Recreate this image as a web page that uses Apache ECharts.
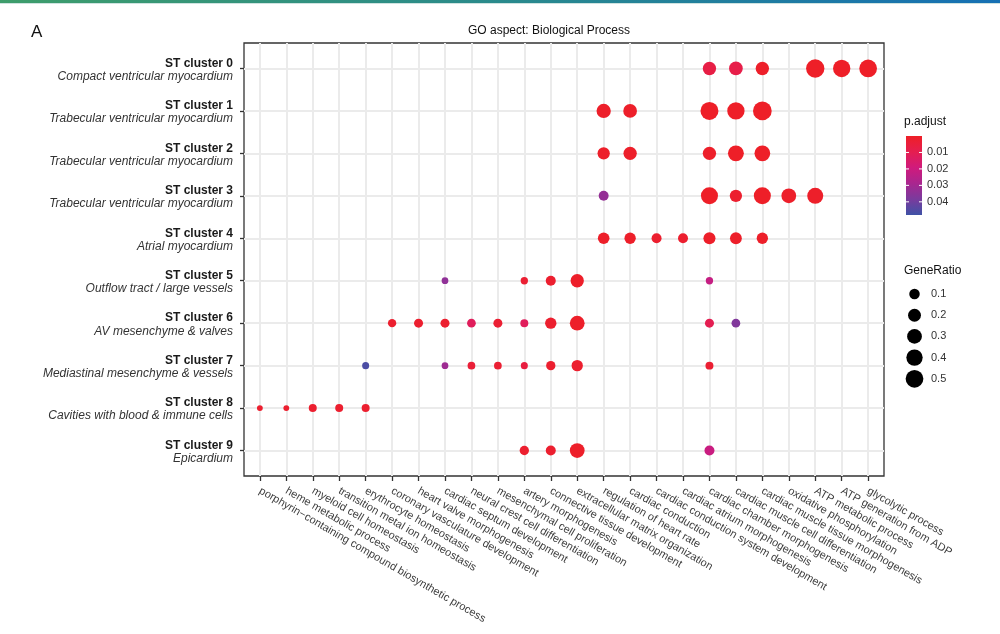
<!DOCTYPE html>
<html>
<head>
<meta charset="utf-8">
<script src="https://cdn.jsdelivr.net/npm/echarts@6/dist/echarts.min.js"></script>
<style>
html,body{margin:0;padding:0;background:#fff;}
#chart{width:1000px;height:634px;}
</style>
</head>
<body>
<div id="chart"></div>
<script>
// ---------- data ----------
const xTerms = [
  'porphyrin\u2212containing compound biosynthetic process',
  'heme metabolic process',
  'myeloid cell homeostasis',
  'transition metal ion homeostasis',
  'erythrocyte homeostasis',
  'coronary vasculature development',
  'heart valve morphogenesis',
  'cardiac septum development',
  'neural crest cell differentiation',
  'mesenchymal cell proliferation',
  'artery morphogenesis',
  'connective tissue development',
  'extracellular matrix organization',
  'regulation of heart rate',
  'cardiac conduction',
  'cardiac conduction system development',
  'cardiac atrium morphogenesis',
  'cardiac chamber morphogenesis',
  'cardiac muscle cell differentiation',
  'cardiac muscle tissue morphogenesis',
  'oxidative phosphorylation',
  'ATP metabolic process',
  'ATP generation from ADP',
  'glycolytic process'
];
const clusterIds = ['ST cluster 0','ST cluster 1','ST cluster 2','ST cluster 3','ST cluster 4',
  'ST cluster 5','ST cluster 6','ST cluster 7','ST cluster 8','ST cluster 9'];
const clusterDescs = [
  'Compact ventricular myocardium',
  'Trabecular ventricular myocardium',
  'Trabecular ventricular myocardium',
  'Trabecular ventricular myocardium',
  'Atrial myocardium',
  'Outflow tract / large vessels',
  'AV mesenchyme & valves',
  'Mediastinal mesenchyme & vessels',
  'Cavities with blood & immune cells',
  'Epicardium'
];
// [term index, GeneRatio, p.adjust]
const cluster0 = [[17,0.22,0.007],[18,0.24,0.008],[19,0.22,0.001],[21,0.55,0.0005],[22,0.47,0.0005],[23,0.50,0.0005]];
const cluster1 = [[13,0.27,0.001],[14,0.24,0.001],[17,0.52,0.0005],[18,0.47,0.0005],[19,0.58,0.0005]];
const cluster2 = [[13,0.17,0.001],[14,0.22,0.001],[17,0.22,0.001],[18,0.37,0.0005],[19,0.36,0.0005]];
const cluster3 = [[13,0.08,0.033],[17,0.45,0.0005],[18,0.17,0.002],[19,0.45,0.0005],[20,0.30,0.001],[21,0.38,0.001]];
const cluster4 = [[13,0.14,0.001],[14,0.13,0.001],[15,0.083,0.002],[16,0.083,0.002],[17,0.16,0.001],[18,0.15,0.001],[19,0.13,0.001]];
const cluster5 = [[7,0.012,0.034],[10,0.02,0.003],[11,0.083,0.002],[12,0.22,0.001],[17,0.02,0.022]];
const cluster6 = [[5,0.039,0.002],[6,0.055,0.002],[7,0.055,0.002],[8,0.047,0.012],[9,0.055,0.003],[10,0.032,0.012],[11,0.13,0.002],[12,0.30,0.001],[17,0.055,0.01],[18,0.047,0.037]];
const cluster7 = [[4,0.016,0.046],[7,0.012,0.031],[8,0.027,0.004],[9,0.027,0.003],[10,0.016,0.006],[11,0.063,0.002],[12,0.13,0.002],[17,0.032,0.003]];
const cluster8 = [[0,0.004,0.002],[1,0.004,0.002],[2,0.032,0.002],[3,0.032,0.002],[4,0.032,0.002]];
const cluster9 = [[10,0.063,0.002],[11,0.083,0.002],[12,0.30,0.001],[17,0.083,0.021]];
const clusters = [cluster0,cluster1,cluster2,cluster3,cluster4,cluster5,cluster6,cluster7,cluster8,cluster9];

const padjTicks = [0.01,0.02,0.03,0.04];
const geneRatioTicks = [0.1,0.2,0.3,0.4,0.5];
const padjMin = 0, padjMax = 0.048;

// ---------- styling / helpers ----------
const FONT = '"Liberation Sans", Arial, Helvetica, sans-serif';
const colorStops = ['#EE1F26','#E51E50','#D01A7C','#A9268F','#7A3B9D','#3F52A6'];
function dotSize(g){ return 4.7 + 18.4*Math.sqrt(g); }

const data = [];
clusters.forEach((arr, ci) => arr.forEach(d => data.push([d[0], ci, d[1], d[2]])));

const xIdx = xTerms.map((_, i) => i);
const yIdx = clusterIds.map((_, i) => i);

// legend geometry
const cbX = 906, cbY = 136, cbW = 16, cbH = 79;
const graphics = [];
graphics.push({type:'rect', shape:{x:0,y:0,width:1000,height:3},
  style:{fill:{type:'linear',x:0,y:0,x2:1,y2:0,colorStops:[
    {offset:0,color:'#3E9D6B'},{offset:0.5,color:'#2A8A8C'},{offset:1,color:'#1670B4'}]}}, silent:true});
graphics.push({type:'rect', shape:{x:0,y:3,width:1000,height:1}, style:{fill:'#CFE3E0'}, silent:true});
graphics.push({type:'text', x:31, y:32, style:{text:'A', font:'17px '+FONT, fill:'#111', textVerticalAlign:'middle'}});
graphics.push({type:'text', x:549, y:31, style:{text:'GO aspect: Biological Process', font:'12px '+FONT, fill:'#111', textAlign:'center', textVerticalAlign:'middle'}});
// p.adjust colour bar
graphics.push({type:'text', x:904, y:122, style:{text:'p.adjust', font:'12px '+FONT, fill:'#111', textVerticalAlign:'middle'}});
graphics.push({type:'rect', shape:{x:cbX,y:cbY,width:cbW,height:cbH},
  style:{fill:{type:'linear',x:0,y:0,x2:0,y2:1,colorStops:colorStops.map((c,i)=>({offset:i/(colorStops.length-1),color:c}))}}});
padjTicks.forEach(v => {
  const y = cbY + (v - padjMin)/(padjMax - padjMin)*cbH;
  graphics.push({type:'line', shape:{x1:cbX,y1:y,x2:cbX+3,y2:y}, style:{stroke:'#fff', lineWidth:1}});
  graphics.push({type:'line', shape:{x1:cbX+cbW-3,y1:y,x2:cbX+cbW,y2:y}, style:{stroke:'#fff', lineWidth:1}});
  graphics.push({type:'text', x:927, y:y, style:{text:v.toFixed(2), font:'11px '+FONT, fill:'#333', textVerticalAlign:'middle'}});
});
// GeneRatio size legend
graphics.push({type:'text', x:904, y:271, style:{text:'GeneRatio', font:'12px '+FONT, fill:'#111', textVerticalAlign:'middle'}});
geneRatioTicks.forEach((g, i) => {
  const y = 294 + i*21.2;
  graphics.push({type:'circle', shape:{cx:914.5, cy:y, r:dotSize(g)/2}, style:{fill:'#000'}});
  graphics.push({type:'text', x:931, y:y, style:{text:String(g), font:'11px '+FONT, fill:'#333', textVerticalAlign:'middle'}});
});

const chart = echarts.init(document.getElementById('chart'), null, {renderer:'canvas'});
chart.setOption({
  animation:false,
  backgroundColor:'#fff',
  grid:{left:244, right:116, top:43, bottom:158, show:true, borderColor:'#333', borderWidth:1.3, backgroundColor:'transparent'},
  xAxis:{
    type:'value', min:-0.6, max:23.6, position:'bottom',
    axisLine:{show:false, onZero:false},
    axisTick:{show:true, customValues:xIdx, length:5, lineStyle:{color:'#333', width:1.3}},
    axisLabel:{customValues:xIdx, rotate:-30, margin:14, fontSize:11, color:'#3d3d3d', fontFamily:FONT,
      formatter: v => xTerms[Math.round(v)]},
    splitLine:{show:true, lineStyle:{color:'#EBEBEB', width:2}}
  },
  yAxis:{
    type:'value', min:-0.6, max:9.6, inverse:true, position:'left',
    axisLine:{show:false, onZero:false},
    axisTick:{show:true, customValues:yIdx, length:4, lineStyle:{color:'#333', width:1.3}},
    axisLabel:{customValues:yIdx, margin:11, fontFamily:FONT, padding:[3,0,0,0],
      formatter: v => '{b|' + clusterIds[Math.round(v)] + '}\n{i|' + clusterDescs[Math.round(v)] + '}',
      rich:{
        b:{fontWeight:'bold', fontSize:12, color:'#1a1a1a', lineHeight:13, fontFamily:FONT},
        i:{fontStyle:'italic', fontSize:12, color:'#333', lineHeight:13, fontFamily:FONT}
      }},
    splitLine:{show:true, lineStyle:{color:'#EBEBEB', width:2}}
  },
  visualMap:{type:'continuous', show:false, min:padjMin, max:padjMax, dimension:3, seriesIndex:0,
    inRange:{color:colorStops}},
  series:[{
    type:'scatter', data:data, symbol:'circle',
    symbolSize: v => dotSize(v[2]),
    itemStyle:{opacity:1}
  }],
  graphic:graphics
});
</script>
</body>
</html>
